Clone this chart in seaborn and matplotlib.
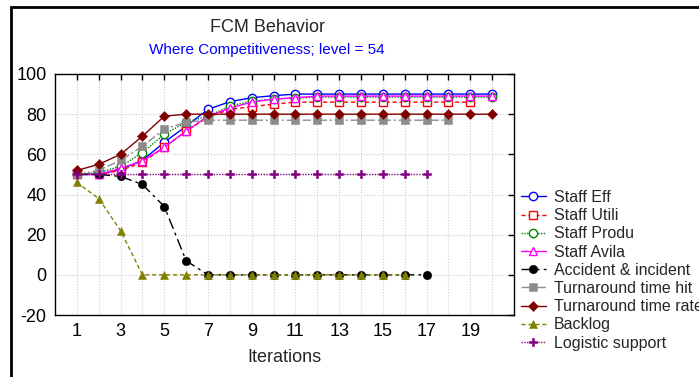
import pandas as pd
import matplotlib.pyplot as plt
import matplotlib.patches as mpatches
import seaborn as sns

sns.set_theme(style="white")
plt.rcParams["font.family"] = ["Liberation Sans", "DejaVu Sans"]
plt.rcParams["axes.unicode_minus"] = False

staff_eff = [50, 50, 52.5, 57, 66, 74, 82.4, 86.2, 88.2, 89.2, 90, 90, 90, 90, 90, 90, 90, 90, 90, 90]
staff_utili = [50, 50, 52, 56, 63.5, 71.6, 78.5, 82.4, 83.7, 85, 86, 86, 86, 86, 86, 86, 86, 86, 86]
staff_produ = [50, 51, 54, 60.8, 70, 76, 79, 84, 86.5, 87.5, 88, 88.5, 88.5, 88.5, 88.5, 88.5, 88.5, 88.5, 88.5, 88.5]
staff_avila = [50, 50, 53, 56.7, 63.5, 71.6, 79, 83, 86, 87.5, 88.2, 89, 89, 89, 89, 89, 89, 89, 89, 89]
accident = [50, 50, 49, 45, 34, 7, 0, 0, 0, 0, 0, 0, 0, 0, 0, 0, 0]
turn_hit = [50, 52, 57, 64, 72.6, 76, 77, 77, 77, 77, 77, 77, 77, 77, 77, 77, 77, 77]
turn_rate = [52, 55, 60, 69, 79, 80, 80, 80, 80, 80, 80, 80, 80, 80, 80, 80, 80, 80, 80, 80]
backlog = [46, 38, 22, 0, 0, 0, 0, 0, 0, 0, 0, 0, 0, 0, 0, 0]
logistic = [50] * 17

# name, values, colour, linestyle, marker, marker size, hollow?
SERIES = [
    ("Staff Eff", staff_eff, "#0000ff", "-", "o", 6, True),
    ("Staff Utili", staff_utili, "#ff0000", (0, (3, 2)), "s", 6, True),
    ("Staff Produ", staff_produ, "#008000", (0, (1, 1)), "o", 6, True),
    ("Staff Avila", staff_avila, "#ff00ff", "-", "^", 6, True),
    ("Accident & incident", accident, "#000000", (0, (8, 3, 2, 3)), "o", 6, False),
    ("Turnaround time hit", turn_hit, "#8c8c8c", (0, (6, 2, 1.5, 2)), "s", 6, False),
    ("Turnaround time rate", turn_rate, "#800000", "-", "D", 5, False),
    ("Backlog", backlog, "#808000", (0, (3, 2)), "^", 6, False),
    ("Logistic support", logistic, "#800080", (0, (1, 1)), "P", 6, False),
]

fig = plt.figure(figsize=(6.99, 3.77), dpi=100)
ax = fig.add_axes([55 / 699, 1 - 315 / 377, (514 - 55) / 699, (315 - 74) / 377])

for name, vals, color, ls, mk, ms, hollow in SERIES:
    df = pd.DataFrame({"Iterations": range(1, len(vals) + 1), "v": vals})
    sns.lineplot(data=df, x="Iterations", y="v", ax=ax, color=color, linestyle=ls,
                 marker=mk, markersize=ms, linewidth=1,
                 markerfacecolor="white" if hollow else color, markeredgecolor=color,
                 markeredgewidth=1 if hollow else 0.4, label=name)

ax.set_xlim(0, 21)
ax.set_ylim(-20, 100)
ax.set_xticks(range(1, 21))
ax.set_xticklabels([str(i) if i % 2 else "" for i in range(1, 21)])
ax.set_yticks(range(-20, 101, 20))
ax.tick_params(direction="in", length=4, width=1, top=True, right=True,
               labelsize=13, colors="black", pad=6)
ax.grid(True, color="#d0d0d0", linestyle=(0, (1, 1.5)), linewidth=0.8)
for s in ax.spines.values():
    s.set_color("black")
    s.set_linewidth(1)
ax.set_xlabel("Iterations", fontsize=13, labelpad=6)
ax.set_ylabel("")

ax.legend(loc="upper left", bbox_to_anchor=(0.99, 0.565), frameon=False, fontsize=11.5,
          handlelength=1.6, handletextpad=0.5, labelspacing=0.2, borderaxespad=0.3)

fig.text(267 / 699, 1 - 28 / 377, "FCM Behavior", ha="center", va="center", fontsize=13)
fig.text(267 / 699, 1 - 50 / 377, "Where Competitiveness; level = 54", ha="center",
         va="center", fontsize=11, color="#0000ff")

fig.patches.append(mpatches.Rectangle((11 / 699, -0.1), 1.2, 1 - 7 / 377 + 0.1,
                                      transform=fig.transFigure, fill=False,
                                      edgecolor="black", linewidth=2))

fig.savefig("out.png", dpi=100)
